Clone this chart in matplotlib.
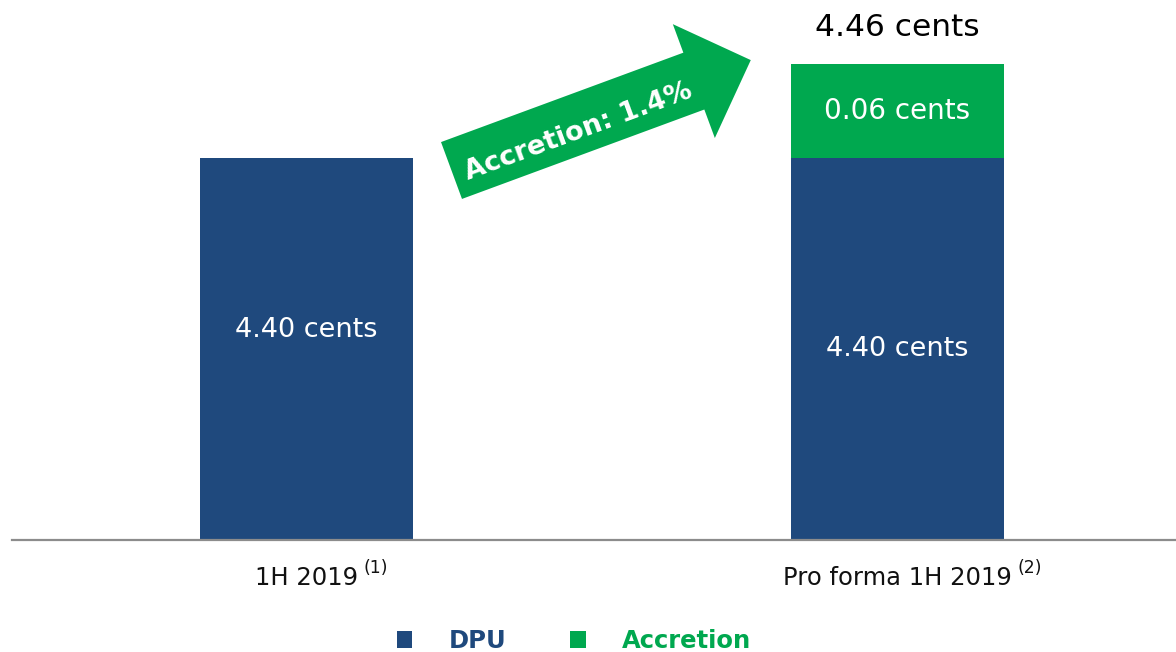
import numpy as np
import matplotlib
matplotlib.use("Agg")
import matplotlib.pyplot as plt
from matplotlib.patches import Patch, Polygon

# ---- data ----
categories = ["1H 2019", "Pro forma 1H 2019"]
footnotes = ["(1)", "(2)"]
dpu = [4.40, 4.40]
accretion = [0.00, 0.06]
dpu_labels = ["4.40 cents", "4.40 cents"]
accretion_labels = ["", "0.06 cents"]
total_labels = ["", "4.46 cents"]
arrow_label = "Accretion: 1.4%"
legend_labels = ["DPU", "Accretion"]

BLUE = "#1F497D"
GREEN = "#00A84F"

W, H = 1176, 652
fig = plt.figure(figsize=(W / 100, H / 100), dpi=100)
ax = fig.add_axes([12 / W, (H - 540) / H, 1 - 12 / W, 540 / H])

x = np.arange(len(categories))
ax.bar(x, dpu, width=0.36, color=BLUE, zorder=2)
ax.bar(x, accretion, bottom=dpu, width=0.36, color=GREEN, zorder=2)

ylo, yhi = 4.1562, 4.5009
ax.set_ylim(ylo, yhi)
ax.set_xlim(-0.498, 1.471)

for s in ["top", "left", "right"]:
    ax.spines[s].set_visible(False)
ax.spines["bottom"].set_color("#8C8C8C")
ax.spines["bottom"].set_linewidth(1.6)
ax.set_yticks([])
ax.set_xticks([])

# value labels
for i in range(len(x)):
    off = 14 if i == 0 else 0
    ax.annotate(dpu_labels[i], xy=(x[i], (ylo + dpu[i]) / 2), xytext=(0, off),
                textcoords="offset points", ha="center", va="center",
                color="white", fontsize=19.5)
    if accretion[i] > 0:
        ax.text(x[i], dpu[i] + accretion[i] / 2, accretion_labels[i],
                ha="center", va="center", color="white", fontsize=20)
        ax.annotate(total_labels[i], xy=(x[i], dpu[i] + accretion[i]),
                    xytext=(0, 26), textcoords="offset points",
                    ha="center", va="center", color="black", fontsize=22.5)

# category labels with superscript footnotes
for i in range(len(x)):
    t = ax.annotate(categories[i], xy=(x[i], 0), xycoords=("data", "axes fraction"),
                    xytext=(0, -27.5), textcoords="offset points",
                    ha="center", va="center", fontsize=17.5, color="#111111")
    ax.annotate(footnotes[i], xy=(1, 1), xycoords=t, xytext=(4, 5),
                textcoords="offset points", ha="left", va="top",
                fontsize=12.5, color="#111111")

# accretion arrow (decoration, figure pixel geometry)
L, hw, HW, hl = 319.0, 30.3, 60.7, 60.7
theta = np.deg2rad(20.25)
local = np.array([(0, -hw), (L - hl, -hw), (L - hl, -HW), (L, 0),
                  (L - hl, HW), (L - hl, hw), (0, hw)])
R = np.array([[np.cos(theta), -np.sin(theta)], [np.sin(theta), np.cos(theta)]])
pts = local @ R.T + np.array([451.5, H - 170.5])
pts_fig = pts / np.array([W, H])
fig.patches.append(Polygon(pts_fig, closed=True, transform=fig.transFigure,
                           facecolor=GREEN, edgecolor="none", zorder=3))
fig.text(578 / W, 1 - 132 / H, arrow_label, rotation=20.25, rotation_mode="anchor",
         ha="center", va="center", color="white", fontsize=19.5, fontweight="bold",
         zorder=4)

# legend
handles = [Patch(facecolor=BLUE, edgecolor="none"), Patch(facecolor=GREEN, edgecolor="none")]
leg = fig.legend(handles, legend_labels, loc="center", bbox_to_anchor=(574 / W, 1 - 641 / H),
                 ncol=2, frameon=False, handlelength=0.65, handleheight=0.65,
                 handletextpad=1.5, columnspacing=2.6,
                 prop={"weight": "bold", "size": 17.5})
for txt, c in zip(leg.get_texts(), [BLUE, GREEN]):
    txt.set_color(c)

fig.savefig("out.png", dpi=100)
